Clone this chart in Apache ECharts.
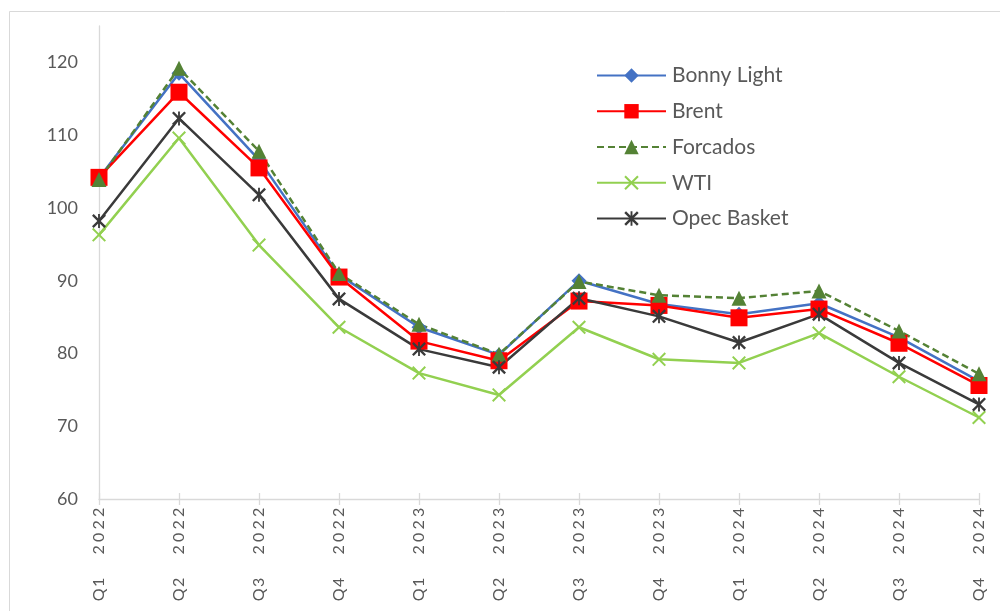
<!DOCTYPE html>
<html>
<head>
<meta charset="utf-8">
<script src="https://cdn.jsdelivr.net/npm/echarts@6/dist/echarts.min.js"></script>
<style>
  html, body { margin: 0; padding: 0; background: #ffffff; }
  #chart { width: 1000px; height: 611px; }
</style>
</head>
<body>
<div id="chart"></div>
<script>
// Quarterly crude oil prices (US$ per barrel)
const categories = ['Q1 2022', 'Q2 2022', 'Q3 2022', 'Q4 2022',
                    'Q1 2023', 'Q2 2023', 'Q3 2023', 'Q4 2023',
                    'Q1 2024', 'Q2 2024', 'Q3 2024', 'Q4 2024'];
const bonnyLight = [104.1, 118.5, 106.6, 90.8, 83.6, 79.8, 90.0, 86.8, 85.4, 86.9, 82.2, 76.2];
const brent      = [104.2, 115.9, 105.5, 90.5, 81.7, 79.0, 87.2, 86.6, 84.9, 86.1, 81.4, 75.6];
const forcados   = [103.9, 119.2, 107.8, 91.0, 84.0, 79.9, 89.9, 88.0, 87.6, 88.6, 83.1, 77.2];
const wti        = [96.3, 109.6, 94.9, 83.6, 77.3, 74.3, 83.6, 79.2, 78.7, 82.8, 76.8, 71.2];
const opecBasket = [98.2, 112.3, 101.8, 87.5, 80.6, 78.1, 87.6, 85.1, 81.5, 85.4, 78.7, 73.0];

// Value axis range
const yMin = 60;
const yMax = 125;
const yStep = 10;

// Marker shapes: a thick "x" and an asterisk (x plus a vertical bar)
const crossPath = 'path://M0,1L1,0L5,4L9,0L10,1L6,5L10,9L9,10L5,6L1,10L0,9L4,5Z';
const asteriskPath = 'path://M0,1.2L1.2,0L5,3.8L8.8,0L10,1.2L6.2,5L10,8.8L8.8,10L5,6.2L1.2,10L0,8.8L3.8,5Z' +
                     'M4.35,0L5.65,0L5.65,10L4.35,10Z';

const FONT = 'Lato, "Open Sans", sans-serif';
const TEXT = '#595959';
const AXIS = '#D9D9D9';

// Category labels are spread out character by character
function spreadLabel(value) {
  return value.split('').map(function (ch) {
    return ch === ' ' ? '{s| }' : '{c|' + ch + '}';
  }).join('');
}

const chart = echarts.init(document.getElementById('chart'), null, { renderer: 'canvas' });

function lineSeries(name, data, color, symbol, size, dashed) {
  return {
    name: name,
    type: 'line',
    data: data,
    symbol: symbol,
    symbolSize: size,
    showAllSymbol: true,
    lineStyle: { color: color, width: 2.5, type: dashed ? [7, 4] : 'solid' },
    itemStyle: { color: color, borderWidth: 0 },
    emphasis: { disabled: true }
  };
}

chart.setOption({
  animation: false,
  backgroundColor: '#ffffff',
  graphic: [{
    type: 'rect',
    silent: true,
    shape: { x: 9.5, y: 11.5, width: 1100, height: 800 },
    style: { fill: 'none', stroke: AXIS, lineWidth: 1 }
  }],
  grid: { left: 99, right: 21, top: 26, bottom: 112, containLabel: false },
  legend: {
    orient: 'vertical',
    left: 596,
    top: 65,
    padding: 0,
    itemWidth: 69,
    itemHeight: 18,
    itemGap: 14.75,
    textStyle: { color: TEXT, fontSize: 21, fontFamily: FONT, padding: [0, 0, 0, 1] },
    data: ['Bonny Light', 'Brent', 'Forcados', 'WTI', 'Opec Basket']
  },
  xAxis: [{
    type: 'category',
    data: categories,
    boundaryGap: false,
    axisLine: { lineStyle: { color: AXIS, width: 1.3 } },
    axisTick: { show: true, length: 6, alignWithLabel: true, lineStyle: { color: AXIS, width: 1.3 } },
    axisLabel: {
      rotate: 90,
      margin: 7,
      interval: 0,
      color: TEXT,
      fontSize: 16,
      fontFamily: FONT,
      formatter: spreadLabel,
      rich: {
        c: { width: 12.5, align: 'center', fontSize: 16, fontFamily: FONT, color: TEXT },
        s: { width: 20, fontSize: 16, fontFamily: FONT, color: TEXT }
      }
    },
    splitLine: { show: false }
  }, {
    // inner half of the tick marks, so they cross the axis line
    type: 'category',
    data: categories,
    boundaryGap: false,
    position: 'bottom',
    axisLine: { show: false },
    axisTick: { show: true, inside: true, length: 6, lineStyle: { color: AXIS, width: 1.3 } },
    axisLabel: { show: false },
    splitLine: { show: false }
  }],
  yAxis: {
    type: 'value',
    min: yMin,
    max: yMax,
    interval: yStep,
    axisLine: { show: true, lineStyle: { color: AXIS, width: 1.3 } },
    axisTick: { show: false },
    splitLine: { show: false },
    axisLabel: {
      color: TEXT,
      fontSize: 18,
      fontFamily: FONT,
      margin: 21,
      showMaxLabel: false
    }
  },
  series: [
    lineSeries('Bonny Light', bonnyLight, '#4472C4', 'diamond', 15, false),
    lineSeries('Brent', brent, '#FF0000', 'rect', 17, false),
    lineSeries('Forcados', forcados, '#548235', 'triangle', 15, true),
    lineSeries('WTI', wti, '#92D050', crossPath, 14, false),
    lineSeries('Opec Basket', opecBasket, '#3A3A3A', asteriskPath, 14, false)
  ]
});
</script>
</body>
</html>
